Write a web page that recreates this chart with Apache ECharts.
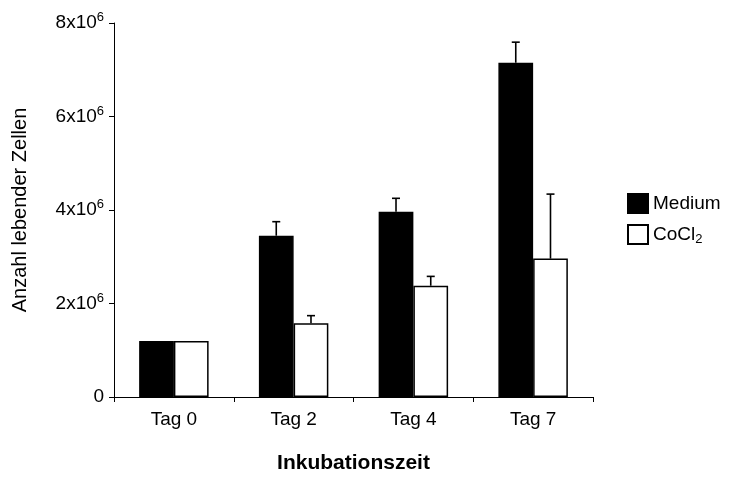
<!DOCTYPE html>
<html>
<head>
<meta charset="utf-8">
<script src="https://cdn.jsdelivr.net/npm/echarts@6/dist/echarts.min.js"></script>
<style>
  html, body { margin: 0; padding: 0; background: #fff; }
  #chart { width: 730px; height: 479px; }
</style>
</head>
<body>
<div id="chart"></div>
<script>
// Daten (Anzahl lebender Zellen)
var categories = ['Tag 0', 'Tag 2', 'Tag 4', 'Tag 7'];
var mediumValues = [1.2e6, 3.45e6, 3.96e6, 7.15e6];
var mediumErrors = [0, 0.30e6, 0.29e6, 0.44e6];
var cocl2Values = [1.2e6, 1.58e6, 2.38e6, 2.96e6];
var cocl2Errors = [0, 0.16e6, 0.20e6, 1.38e6];
var yTicks = [0, 2e6, 4e6, 6e6, 8e6];

var font = 'Liberation Sans, Arial, sans-serif';

// Fehlerbalken (nur nach oben)
function errorData(values, errors) {
    return values.map(function (v, i) {
        return [i, v, v + errors[i]];
    });
}

function makeErrorRender(offsetFactor) {
    return function (params, api) {
        var i = api.value(0);
        if (api.value(2) <= api.value(1)) return null;
        var band = api.size([1, 0])[0];
        var base = api.coord([i, api.value(1)]);
        var top = api.coord([i, api.value(2)]);
        var x = base[0] + band * offsetFactor;
        var cap = 4;
        return {
            type: 'group',
            children: [
                { type: 'line', shape: { x1: x, y1: base[1], x2: x, y2: top[1] }, style: { stroke: '#000', lineWidth: 1.6 } },
                { type: 'line', shape: { x1: x - cap, y1: top[1], x2: x + cap, y2: top[1] }, style: { stroke: '#000', lineWidth: 1.6 } }
            ]
        };
    };
}

var myChart = echarts.init(document.getElementById('chart'));
var option = {
    backgroundColor: '#fff',
    animation: false,
    textStyle: { fontFamily: font },
    grid: { left: 114, right: 137, top: 23, bottom: 79, containLabel: false },
    legend: {
        orient: 'vertical',
        left: 622,
        top: 188,
        itemWidth: 20,
        itemHeight: 19,
        itemGap: 10,
        icon: 'rect',
        data: ['Medium', 'CoCl2'],
        formatter: function (name) {
            return name === 'CoCl2' ? 'CoCl{sub|2}' : name;
        },
        textStyle: {
            fontFamily: font,
            fontSize: 19,
            color: '#000',
            rich: {
                sub: { fontSize: 13, fontFamily: font, color: '#000', padding: [9, 0, 0, 0] }
            }
        }
    },
    xAxis: {
        type: 'category',
        data: categories,
        name: 'Inkubationszeit',
        nameLocation: 'middle',
        nameGap: 56,
        nameTextStyle: { fontFamily: font, fontSize: 21, fontWeight: 'bold', color: '#000' },
        axisLine: { lineStyle: { color: '#000', width: 1 } },
        axisTick: { show: true, length: 5, lineStyle: { color: '#000' } },
        axisLabel: { fontFamily: font, fontSize: 19, color: '#000', margin: 13 }
    },
    yAxis: {
        type: 'value',
        min: 0,
        max: 8e6,
        interval: 2e6,
        name: 'Anzahl lebender Zellen',
        nameLocation: 'middle',
        nameGap: 84,
        nameTextStyle: { fontFamily: font, fontSize: 20, color: '#000' },
        axisLine: { show: true, lineStyle: { color: '#000', width: 1 } },
        axisTick: { show: true, length: 5, lineStyle: { color: '#000' } },
        splitLine: { show: false },
        axisLabel: {
            fontFamily: font,
            fontSize: 19,
            color: '#000',
            margin: 10,
            formatter: function (v) {
                if (yTicks.indexOf(v) < 0) return '';
                return v === 0 ? '0' : (v / 1e6) + 'x10{sup|6}';
            },
            rich: {
                sup: { fontSize: 13, fontFamily: font, color: '#000', padding: [0, 0, 11, 0] }
            }
        }
    },
    series: [
        {
            name: 'Medium',
            type: 'bar',
            data: mediumValues,
            barGap: '0%',
            barCategoryGap: '42%',
            itemStyle: { color: '#000', borderColor: '#000', borderWidth: 1.5 }
        },
        {
            name: 'CoCl2',
            type: 'bar',
            data: cocl2Values,
            barGap: '0%',
            barCategoryGap: '42%',
            itemStyle: { color: '#fff', borderColor: '#000', borderWidth: 1.5 }
        },
        {
            type: 'custom',
            renderItem: makeErrorRender(-0.145),
            data: errorData(mediumValues, mediumErrors),
            encode: { x: 0, y: [1, 2] },
            z: 3,
            silent: true
        },
        {
            type: 'custom',
            renderItem: makeErrorRender(0.145),
            data: errorData(cocl2Values, cocl2Errors),
            encode: { x: 0, y: [1, 2] },
            z: 3,
            silent: true
        }
    ]
};
myChart.setOption(option);
</script>
</body>
</html>
